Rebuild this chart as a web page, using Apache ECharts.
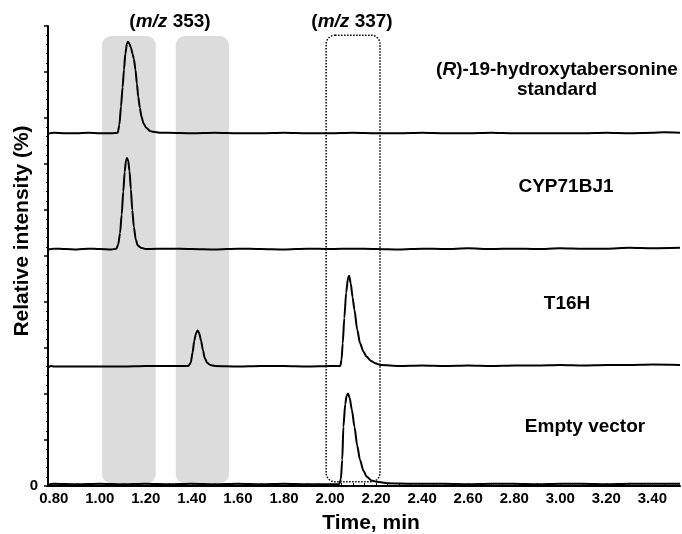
<!DOCTYPE html>
<html>
<head>
<meta charset="utf-8">
<script src="https://cdn.jsdelivr.net/npm/echarts@6/dist/echarts.min.js"></script>
<style>
html, body { margin: 0; padding: 0; background: #fff; }
#chart { width: 682px; height: 534px; }
</style>
</head>
<body>
<div id="chart"></div>
<script>
const FONT = '"Liberation Sans", Arial, sans-serif';

// tick labels
const xLabelValues = [0.8, 1.0, 1.2, 1.4, 1.6, 1.8, 2.0, 2.2, 2.4, 2.6, 2.8, 3.0, 3.2, 3.4];
const yLabelValues = [0];

// chromatograms [time (min), relative intensity], stacked with offsets as in the figure
const standardTrace = [[0.775,76.6],[0.8,76.8],[0.85,76.7],[0.9,76.7],[0.95,76.8],[1.0,76.7],[1.05,76.7],[1.078,76.8],[1.085,78.5],[1.092,82.5],[1.099,86.7],[1.105,90.5],[1.111,94],[1.118,96.2],[1.123,96.6],[1.129,96.1],[1.135,95.3],[1.142,94],[1.148,92.8],[1.155,90.5],[1.161,87.5],[1.167,84.6],[1.174,82.2],[1.181,80.3],[1.19,78.8],[1.203,77.8],[1.218,77.2],[1.232,77.0],[1.26,76.8],[1.3,76.8],[1.4,76.7],[1.5,76.8],[1.6,76.7],[1.7,76.7],[1.8,76.8],[1.9,76.7],[2.0,76.7],[2.1,76.8],[2.2,76.7],[2.3,76.7],[2.4,76.8],[2.5,76.7],[2.6,76.7],[2.7,76.8],[2.8,76.7],[2.9,76.7],[3.0,76.7],[3.1,76.7],[3.2,76.8],[3.3,76.7],[3.4,76.8],[3.45,76.9],[3.52,76.8]];

const cyp71bj1Trace = [[0.775,51.4],[0.8,51.6],[0.85,51.5],[0.9,51.4],[0.95,51.6],[1.0,51.5],[1.05,51.4],[1.072,51.6],[1.08,52.5],[1.088,55],[1.095,59],[1.102,64],[1.108,68.3],[1.113,70.5],[1.118,71.3],[1.123,70.8],[1.129,68.5],[1.135,64.5],[1.141,60],[1.148,56.3],[1.156,53.6],[1.165,52.3],[1.178,51.8],[1.2,51.5],[1.3,51.6],[1.4,51.5],[1.5,51.4],[1.6,51.6],[1.7,51.5],[1.8,51.4],[1.9,51.6],[2.0,51.5],[2.1,51.6],[2.2,51.5],[2.3,51.4],[2.4,51.6],[2.5,51.5],[2.6,51.7],[2.7,51.5],[2.8,51.6],[2.9,51.5],[3.0,51.7],[3.1,51.6],[3.2,51.6],[3.3,51.8],[3.4,51.7],[3.52,51.8]];

const t16hTrace = [[0.775,25.8],[0.79,26.1],[0.8,26.0],[0.9,26.0],[1.0,26.0],[1.1,26.0],[1.2,26.1],[1.3,26.1],[1.385,26.1],[1.395,26.8],[1.403,29],[1.41,31.5],[1.418,33.2],[1.425,33.8],[1.432,33.2],[1.44,31.5],[1.448,29.5],[1.456,27.8],[1.466,26.8],[1.48,26.3],[1.5,26.1],[1.6,26.0],[1.7,26.1],[1.8,26.1],[1.9,26.0],[2.0,26.1],[2.045,26.1],[2.05,27.5],[2.055,31],[2.062,36.5],[2.07,42],[2.078,45.2],[2.083,45.7],[2.09,44],[2.098,41],[2.106,38.3],[2.118,34],[2.13,31.1],[2.145,29.2],[2.159,28.1],[2.178,27.2],[2.196,26.7],[2.22,26.3],[2.3,26.1],[2.4,26.2],[2.5,26.1],[2.6,26.2],[2.7,26.1],[2.8,26.2],[2.9,26.2],[3.0,26.3],[3.1,26.2],[3.2,26.3],[3.3,26.3],[3.4,26.4],[3.52,26.3]];

const emptyVectorTrace = [[0.775,0.3],[0.8,0.5],[0.9,0.4],[1.0,0.5],[1.1,0.4],[1.2,0.5],[1.3,0.4],[1.4,0.5],[1.5,0.4],[1.6,0.5],[1.7,0.4],[1.8,0.5],[1.9,0.4],[2.0,0.4],[2.04,0.4],[2.047,1.5],[2.053,5.7],[2.058,12.9],[2.066,17.8],[2.072,19.6],[2.078,20.1],[2.085,19.2],[2.095,16.5],[2.106,12.9],[2.118,8.8],[2.13,5.7],[2.145,3.3],[2.16,2.0],[2.18,1.2],[2.203,0.9],[2.25,0.6],[2.35,0.5],[2.5,0.5],[2.6,0.4],[2.7,0.5],[2.8,0.5],[2.9,0.4],[3.0,0.5],[3.1,0.5],[3.2,0.4],[3.3,0.5],[3.4,0.5],[3.52,0.5]];

// highlighted windows [t0, t1, yLow, yHigh]
const grayWindows = [[1.01, 1.243, 0.6, 97.8], [1.33, 1.561, 0.6, 97.8]];
const dottedWindow = [[1.983, 2.217, 0.9, 98.0]];

const xTicks = [];
for (let t = 80; t <= 350; t += 5) xTicks.push(t / 100);

const chart = echarts.init(document.getElementById('chart'));

function windowItem(style) {
    return function (params, api) {
        const p0 = api.coord([api.value(0), api.value(3)]);
        const p1 = api.coord([api.value(1), api.value(2)]);
        return {
            type: 'rect',
            shape: { x: p0[0], y: p0[1], width: p1[0] - p0[0], height: p1[1] - p0[1], r: 9 },
            style: style
        };
    };
}

function trace(data) {
    return {
        type: 'line',
        data: data,
        showSymbol: false,
        smooth: 0.25,
        smoothMonotone: 'x',
        z: 4,
        silent: true,
        lineStyle: { color: '#000', width: 2 }
    };
}

const boldText = (text, x, y, extra) => ({
    type: 'text',
    x: x,
    y: y,
    z: 10,
    style: Object.assign({
        text: text,
        fontFamily: FONT,
        fontWeight: 'bold',
        fontSize: 19,
        fill: '#000',
        align: 'center',
        verticalAlign: 'middle',
        rich: {
            i: { fontFamily: FONT, fontWeight: 'bold', fontStyle: 'italic', fontSize: 19, fill: '#000' }
        }
    }, extra || {})
});

const option = {
    animation: false,
    backgroundColor: '#fff',
    grid: { left: 48, right: 2, top: 26, bottom: 48 },
    xAxis: {
        type: 'value',
        min: 0.775,
        max: 3.52,
        axisLine: { show: true, onZero: false, lineStyle: { color: '#000', width: 2 } },
        axisTick: { show: true, inside: true, length: 3, customValues: xTicks, lineStyle: { color: '#000', width: 1 } },
        axisLabel: {
            customValues: xLabelValues,
            formatter: v => v.toFixed(2),
            fontFamily: FONT, fontWeight: 'bold', fontSize: 15, color: '#000', margin: 5
        },
        splitLine: { show: false }
    },
    yAxis: {
        type: 'value',
        min: 0,
        max: 100,
        interval: 10,
        axisLine: { show: true, lineStyle: { color: '#000', width: 2 } },
        axisTick: { show: true, length: 4, lineStyle: { color: '#000', width: 1.5 } },
        minorTick: { show: true, splitNumber: 5, length: 2, lineStyle: { color: '#000', width: 1 } },
        axisLabel: {
            customValues: yLabelValues,
            fontFamily: FONT, fontWeight: 'bold', fontSize: 15, color: '#000', margin: 10
        },
        splitLine: { show: false }
    },
    series: [
        {
            type: 'custom',
            data: grayWindows,
            z: 1,
            silent: true,
            encode: { x: [0, 1], y: [2, 3] },
            renderItem: windowItem({ fill: '#dcdcdc' })
        },
        {
            type: 'custom',
            data: dottedWindow,
            z: 2,
            silent: true,
            encode: { x: [0, 1], y: [2, 3] },
            renderItem: windowItem({ fill: 'none', stroke: '#000', lineWidth: 1.5, lineDash: [1.5, 1.5] })
        },
        trace(standardTrace),
        trace(cyp71bj1Trace),
        trace(t16hTrace),
        trace(emptyVectorTrace)
    ],
    graphic: [
        boldText('({i|m/z} 353)', 170, 22),
        boldText('({i|m/z} 337)', 352, 22),
        boldText('({i|R})-19-hydroxytabersonine', 557, 70),
        boldText('standard', 557, 90),
        boldText('CYP71BJ1', 566, 187),
        boldText('T16H', 567, 304),
        boldText('Empty vector', 585, 427),
        boldText('Time, min', 371, 523, { fontSize: 21 }),
        Object.assign(boldText('Relative intensity (%)', 0, 0, { fontSize: 21 }), { x: 22, y: 231, rotation: Math.PI / 2 })
    ]
};

chart.setOption(option);
</script>
</body>
</html>
